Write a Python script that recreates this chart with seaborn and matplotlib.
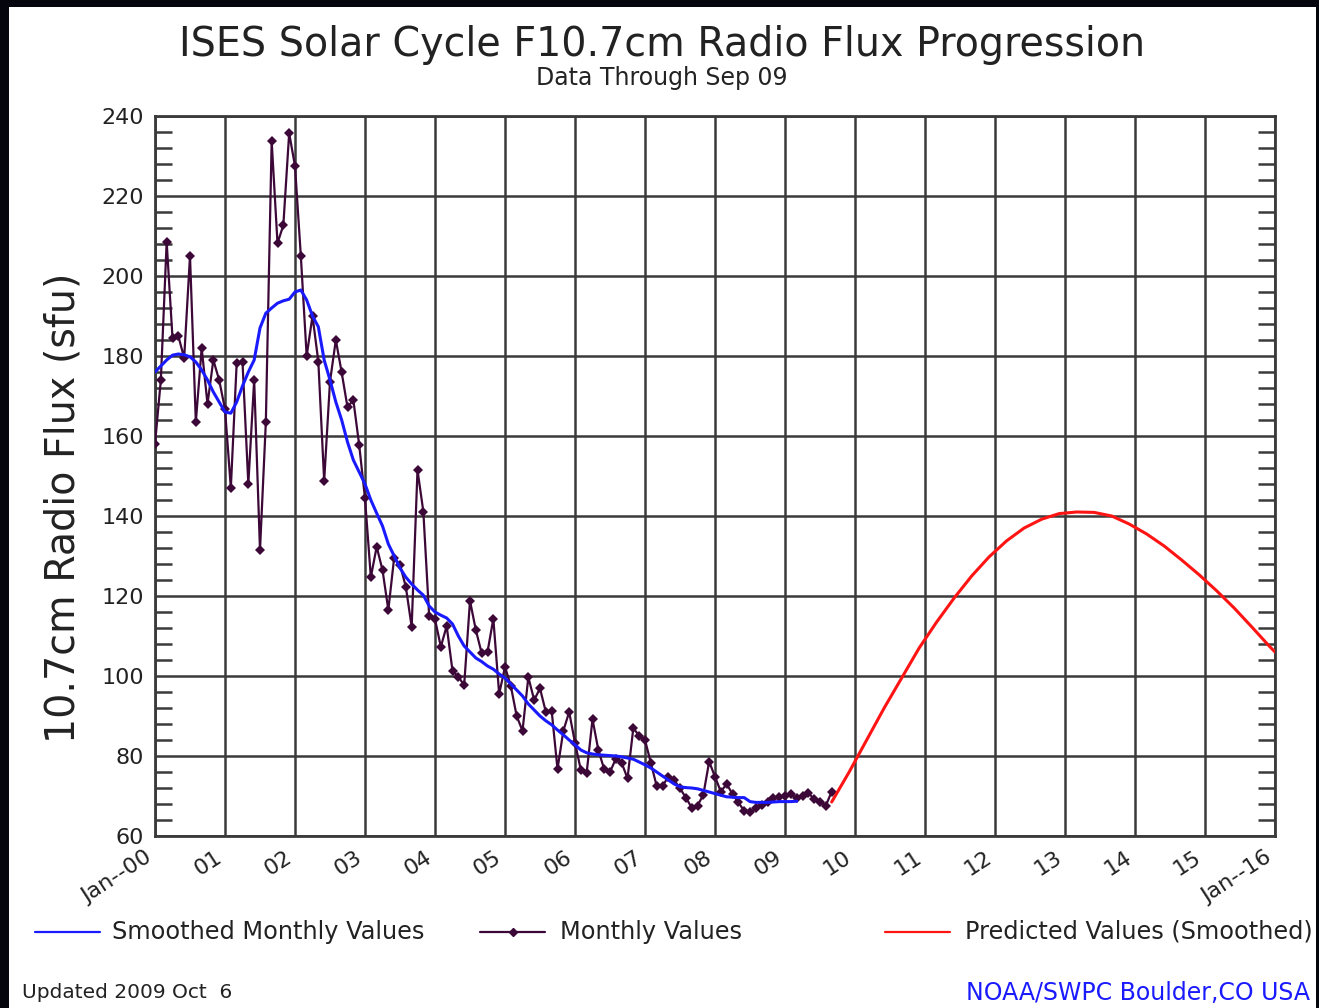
import numpy as np
import pandas as pd
import matplotlib
matplotlib.use("Agg")
import matplotlib.pyplot as plt
import seaborn as sns
from matplotlib.lines import Line2D
from matplotlib.patches import Rectangle
from matplotlib.ticker import MultipleLocator

# ---------------- data ----------------
monthly_values = [
    158, 174, 208.5, 184.5, 185, 179.5, 205, 163.5, 182, 168, 179, 174,          # 2000
    166.7, 147, 178.2, 178.5, 148, 174, 131.5, 163.4, 233.7, 208.2, 212.7, 235.7,  # 2001
    227.5, 205, 180, 190, 178.6, 148.8, 173.6, 184, 175.9, 167.2, 169, 157.8,    # 2002
    144.4, 124.7, 132.3, 126.5, 116.5, 129.6, 127.8, 122.3, 112.3, 151.5, 141.1, 115,  # 2003
    114.2, 107.3, 112.5, 101.3, 99.8, 97.7, 118.8, 111.5, 105.7, 106, 114.3, 95.5,  # 2004
    102.3, 97.5, 90, 86.3, 99.7, 94, 96.9, 91, 91.3, 76.7, 86.3, 91,             # 2005
    83.3, 76.5, 75.8, 89.2, 81.5, 76.7, 76, 79.3, 78.3, 74.4, 87, 85,            # 2006
    84, 78.3, 72.5, 72.5, 74.8, 74, 71.9, 69.6, 67.1, 67.6, 70.3, 78.6,          # 2007
    74.8, 71.1, 73, 70.5, 68.4, 66.3, 65.9, 66.9, 67.7, 68.6, 69.6, 69.8,        # 2008
    70, 70.5, 69.4, 70, 70.8, 69.2, 68.6, 67.6, 71.1,                            # 2009
]

smoothed_values = [
    176, 177.5, 179, 180.2, 180.5, 180.3, 179.8, 178.5, 176.5, 174, 171, 168.5,
    166, 165.7, 168.5, 172.5, 176, 179, 187, 190.7, 192, 193.2, 193.8, 194.2,
    196, 196.5, 194, 190, 187.3, 179, 174, 168.5, 164, 158.5, 154, 151,
    148, 144, 140.7, 137.5, 133, 130, 127, 124.7, 123, 121.5, 120.2, 117.5,
    116, 115.2, 114.5, 113, 110, 107.5, 106, 104.5, 103.6, 102.5, 101.7, 100.5,
    99.5, 98, 96.5, 95, 93, 91.5, 90, 88.8, 87.8, 86.5, 85.3, 84,
    82.8, 81.5, 80.8, 80.5, 80.3, 80.2, 80.1, 80, 79.8, 79.5, 79.2, 78.5,
    77.8, 77, 76, 75, 74, 73, 72.3, 72.1, 72, 71.8, 71.4, 71,
    70.6, 70.2, 69.8, 69.7, 69.6, 69.6, 68.6, 68.4, 68.4, 68.4, 68.5, 68.6,
    68.6, 68.6, 68.7,
]

# predicted: month index counted from Jan 2000
predicted_months = [116, 119, 122, 125, 128, 131, 134, 137, 140, 143, 146, 149, 152,
                    155, 158, 161, 164, 167, 170, 173, 176, 179, 182, 185, 188, 191, 192]
predicted_values = [68.5, 76, 84, 92, 99.5, 107, 113.5, 119.5, 125, 129.8, 133.8, 137, 139.2,
                    140.6, 141, 140.9, 140, 138, 135.5, 132.5, 129, 125.3, 121.3, 117, 112.3, 107.5, 106]

year_tick_labels = ["Jan--00", "01", "02", "03", "04", "05", "06", "07", "08",
                    "09", "10", "11", "12", "13", "14", "15", "Jan--16"]
y_tick_values = [60, 80, 100, 120, 140, 160, 180, 200, 220, 240]

title_text = "ISES Solar Cycle F10.7cm Radio Flux Progression"
subtitle_text = "Data Through Sep 09"
ylabel_text = "10.7cm Radio Flux (sfu)"
legend_labels = ["Smoothed Monthly Values", "Monthly Values", "Predicted Values (Smoothed)"]
footer_left = "Updated 2009 Oct  6"
footer_right = "NOAA/SWPC Boulder,CO USA"

# ---------------- frames ----------------
df_month = pd.DataFrame({"x": 2000 + np.arange(len(monthly_values)) / 12.0,
                         "y": monthly_values})
df_smooth = pd.DataFrame({"x": 2000 + np.arange(len(smoothed_values)) / 12.0,
                          "y": smoothed_values})
df_pred = pd.DataFrame({"x": 2000 + np.array(predicted_months) / 12.0,
                        "y": predicted_values})

# ---------------- style ----------------
sns.set_style("white")
plt.rcParams["font.family"] = ["DejaVu Sans"]

W, H = 1319, 1008
fig = plt.figure(figsize=(W / 100, H / 100), dpi=100)
fig.patch.set_facecolor("#05050d")
fig.patches.append(Rectangle((9 / W, 0), (W - 12) / W, (H - 7) / H,
                             transform=fig.transFigure, facecolor="white",
                             edgecolor="none", zorder=-10))

L, R, T, B = 155, 1275, 116, 836
ax = fig.add_axes([L / W, 1 - B / H, (R - L) / W, (B - T) / H])
ax.set_facecolor("white")

grid_c = "#3a3a3a"
purple = "#3c0838"
blue = "#1a1aff"
red = "#ff1414"
txt_c = "#222222"

sns.lineplot(data=df_month, x="x", y="y", ax=ax, color=purple, lw=1.6,
             marker="D", markersize=5.2, markeredgewidth=0, estimator=None,
             sort=False, zorder=3)
sns.lineplot(data=df_smooth, x="x", y="y", ax=ax, color=blue, lw=2.2,
             estimator=None, sort=False, zorder=4)
sns.lineplot(data=df_pred, x="x", y="y", ax=ax, color=red, lw=2.2,
             estimator=None, sort=False, zorder=4)

ax.set_xlim(2000, 2016)
ax.set_ylim(60, 240)
ax.set_xticks(np.arange(2000, 2017))
ax.set_xticklabels(year_tick_labels, rotation=33, ha="right", va="top",
                   fontsize=16, color=txt_c)
ax.set_yticks(y_tick_values)
ax.set_yticklabels([str(v) for v in y_tick_values], fontsize=16, color=txt_c)
ax.yaxis.set_minor_locator(MultipleLocator(4))
ax.tick_params(axis="both", which="major", length=0, pad=8)
ax.tick_params(axis="y", which="minor", direction="in", length=12, width=1.8,
               color=grid_c, left=True, right=True)
ax.grid(True, which="major", color=grid_c, lw=1.8)
ax.set_axisbelow(True)
for s in ax.spines.values():
    s.set_color(grid_c)
    s.set_linewidth(2)
    s.set_visible(True)

ax.set_xlabel("")
ax.set_ylabel(ylabel_text, fontsize=28.5, color=txt_c)
ax.yaxis.set_label_coords(-0.064, 0.456)

# titles
fig.text(662 / W, 1 - 45 / H, title_text, ha="center", va="center",
         fontsize=28.5, color=txt_c)
fig.text(662 / W, 1 - 78 / H, subtitle_text, ha="center", va="center",
         fontsize=17, color=txt_c)

# legend (manual, figure coordinates)
ly = 1 - 932 / H
entries = [(35, 100, 112, blue, None, legend_labels[0]),
           (480, 545, 560, purple, "D", legend_labels[1]),
           (885, 950, 965, red, None, legend_labels[2])]
for x0, x1, xt, c, mk, lab in entries:
    fig.lines.append(Line2D([x0 / W, x1 / W], [ly, ly], transform=fig.transFigure,
                            color=c, lw=1.6))
    if mk:
        fig.lines.append(Line2D([(x0 + x1) / 2 / W], [ly], transform=fig.transFigure,
                                color=c, marker=mk, markersize=4.5, lw=0))
    fig.text(xt / W, ly, lab, ha="left", va="center", fontsize=17.3, color=txt_c)

fig.text(22 / W, 1 - 993 / H, footer_left, ha="left", va="center",
         fontsize=14.5, color=txt_c)
fig.text(1310 / W, 1 - 993 / H, footer_right, ha="right", va="center",
         fontsize=17, color="#1a1aff")

fig.savefig("out.png", dpi=100, facecolor=fig.get_facecolor())
